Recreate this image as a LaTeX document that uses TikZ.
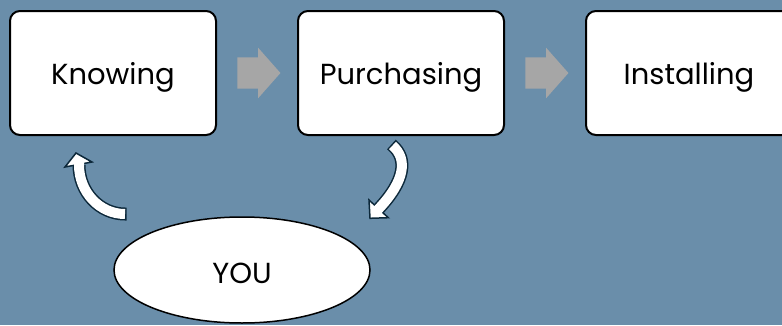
\documentclass[tikz,border=0pt]{standalone}
\usepackage{fontspec}
\setmainfont{Poppins}
\usepackage{tikz}
\usetikzlibrary{shapes.geometric,shapes.arrows,calc}
\usepackage{xcolor}
\definecolor{slateblue}{RGB}{106,142,170}
\definecolor{flowgray}{RGB}{166,166,166}
\definecolor{inknavy}{RGB}{12,40,58}

\begin{document}
\begin{tikzpicture}[x=1pt, y=1pt,
    stage/.style={draw=black, line width=2, rounded corners=10, fill=white,
        minimum width=206, minimum height=124, text depth=0pt,
        font=\fontsize{29}{34}\selectfont},
    flow/.style={single arrow, fill=flowgray, inner xsep=0, inner ysep=15.5,
        minimum height=43, single arrow head extend=9.5, single arrow tip angle=97},
    rim/.style={line width=13, inknavy},
    core/.style={line width=10, white},
    head/.style={fill=white, draw=inknavy, line width=1.5}]
    \path[use as bounding box] (0,0) rectangle (782,325);
    \clip (0,0) rectangle (782,325);
    \fill[slateblue] (0,0) rectangle (782,325);

    % the three steps
    \node[stage] (know) at (113,252) {Knowing};
    \node[stage] (purch) at (401,252) {Purchasing};
    \node[stage] (inst) at (689,252) {Installing};
    \node[flow] (go1) at ($(know.east)!0.5!(purch.west)+(-5,0)$) {};
    \node[flow] (go2) at ($(purch.east)!0.5!(inst.west)+(-5,0)$) {};

    % you
    \node[ellipse, draw=black, line width=1.5, fill=white, minimum width=256,
        minimum height=106, inner sep=0, text height=26pt, text depth=0pt,
        font=\fontsize{29}{34}\selectfont] (you) at (242,55) {YOU};

    % you -> knowing
    \coordinate (upfrom) at (125,111);
    \coordinate (upto) at (79,160);
    \draw[rim] ($(upfrom)+(1.5,0)$) -- (upfrom) arc[start angle=270, end angle=180, x radius=46, y radius=49];
    \filldraw[head, shift={(upto)}] (-14,-2) -- (-3,12) -- (13,3) -- cycle;
    \draw[core] (upfrom) arc[start angle=270, end angle=180, x radius=46, y radius=49] -- ++(0,3);

    % purchasing -> you
    \coordinate (downfrom) at (392.5,179.5);
    \coordinate (downto) at (378.5,116);
    \draw[rim] ($(downfrom)+(-1.1,1)$) -- (downfrom) .. controls (408,166) and (405,144) .. (downto);
    \filldraw[head, shift={(downto)}] (-9.5,9) -- (-8.5,-9.3) -- (9.8,-8.7) -- cycle;
    \draw[core] (downfrom) .. controls (408,166) and (405,144) .. (downto) -- ++(-2,-2.2);
\end{tikzpicture}
\end{document}
